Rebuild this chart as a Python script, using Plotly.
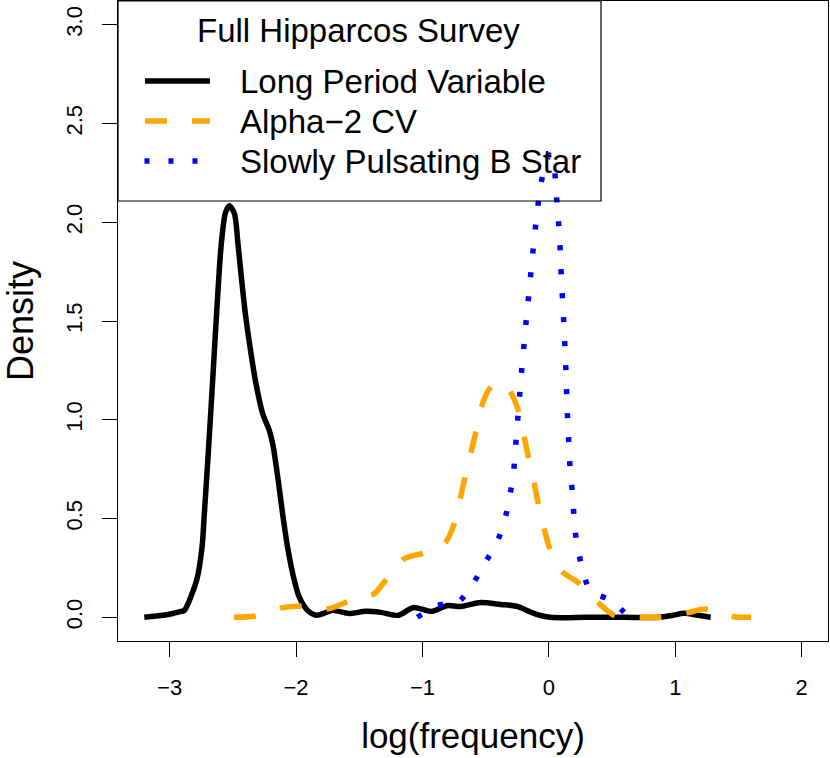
import plotly.graph_objects as go

# ---- data ----
series_names = ["Long Period Variable", "Alpha\u22122 CV", "Slowly Pulsating B Star"]
legend_title = "Full Hipparcos Survey"

lpv_x = [-3.20, -3.05, -2.975, -2.91, -2.883, -2.786, -2.743, -2.725, -2.691, -2.659, -2.628,
         -2.593, -2.559, -2.528, -2.488, -2.457, -2.430, -2.401, -2.364, -2.322, -2.264,
         -2.212, -2.180, -2.141, -2.106, -2.067, -2.014, -1.975, -1.909, -1.843, -1.78,
         -1.711, -1.58, -1.448, -1.33, -1.19, -1.07, -0.93, -0.80, -0.70, -0.54, -0.38,
         -0.25, -0.12, 0.01, 0.30, 0.60, 0.88, 0.98, 1.07, 1.18, 1.28]
lpv_y = [0.0, 0.01, 0.019, 0.03, 0.035, 0.188, 0.356, 0.525, 0.863, 1.201, 1.539,
         1.877, 2.046, 2.083, 2.046, 1.877, 1.708, 1.539, 1.370, 1.201, 1.032,
         0.948, 0.863, 0.694, 0.525, 0.356, 0.188, 0.103, 0.035, 0.01, 0.02,
         0.035, 0.019, 0.03, 0.025, 0.01, 0.05, 0.03, 0.06, 0.055, 0.075, 0.065,
         0.055, 0.02, 0.0, 0.0, 0.0, 0.0, 0.01, 0.02, 0.01, 0.0]

acv_x = [-2.49, -2.33, -2.20, -2.106, -1.962, -1.85, -1.737, -1.593, -1.48, -1.38, -1.29,
         -1.143, -0.998, -0.90, -0.814, -0.748, -0.669, -0.577, -0.524, -0.458, -0.40,
         -0.313, -0.247, -0.195, -0.168, -0.116, -0.09, -0.037, 0.003, 0.108, 0.226,
         0.398, 0.516, 0.62, 0.73, 0.88, 0.98, 1.11, 1.20, 1.26, 1.35, 1.46, 1.60]
acv_y = [0.0, 0.005, 0.03, 0.049, 0.056, 0.045, 0.044, 0.078, 0.10, 0.12, 0.188,
         0.297, 0.323, 0.34, 0.382, 0.475, 0.694, 0.939, 1.083, 1.167, 1.19,
         1.15, 1.058, 0.914, 0.83, 0.678, 0.593, 0.449, 0.356, 0.23, 0.179,
         0.069, 0.01, 0.0, 0.0, 0.0, 0.01, 0.025, 0.04, 0.042, 0.02, 0.003, 0.0]

spb_x = [-1.04, -0.88, -0.72, -0.60, -0.51, -0.41, -0.35, -0.31, -0.28, -0.265, -0.25,
         -0.235, -0.221, -0.203, -0.187, -0.168, -0.150, -0.132, -0.113, -0.092, -0.069,
         -0.029, 0.005, 0.037, 0.055, 0.068, 0.084, 0.092, 0.100, 0.111, 0.121, 0.129,
         0.137, 0.142, 0.15, 0.16, 0.17, 0.19, 0.20, 0.22, 0.26, 0.32, 0.40, 0.479, 0.62]
spb_y = [0.0, 0.06, 0.075, 0.17, 0.27, 0.38, 0.49, 0.61, 0.73, 0.85, 0.97,
         1.09, 1.210, 1.331, 1.451, 1.573, 1.691, 1.813, 1.933, 2.053, 2.171,
         2.291, 2.34, 2.308, 2.183, 2.061, 1.941, 1.821, 1.699, 1.580, 1.458, 1.338,
         1.218, 1.10, 0.98, 0.86, 0.73, 0.61, 0.49, 0.38, 0.26, 0.142, 0.11, 0.091, 0.01]

x_ticks = [-3, -2, -1, 0, 1, 2]
x_tick_labels = ["\u22123", "\u22122", "\u22121", "0", "1", "2"]
y_ticks = [0.0, 0.5, 1.0, 1.5, 2.0, 2.5, 3.0]
y_tick_labels = ["0.0", "0.5", "1.0", "1.5", "2.0", "2.5", "3.0"]

colors = ["black", "orange", "blue"]
dashes = ["solid", "22px,25px", "5px,19px"]

FONT = "Liberation Sans, Arial, Helvetica, sans-serif"

fig = go.Figure()
for xs, ys, name, c, d in [(lpv_x, lpv_y, series_names[0], colors[0], dashes[0]),
                           (acv_x, acv_y, series_names[1], colors[1], dashes[1]),
                           (spb_x, spb_y, series_names[2], colors[2], dashes[2])]:
    fig.add_trace(go.Scatter(x=xs, y=ys, mode="lines", name=name, showlegend=False,
                             line=dict(color=c, width=5.5, dash=d, shape="spline", smoothing=0.7)))

# ---- custom legend (box, samples, labels) ----
shapes = [dict(type="rect", xref="paper", yref="paper", x0=0, x1=0.6803, y0=0.6875, y1=1.0,
               line=dict(color="black", width=1.2), fillcolor="rgba(0,0,0,0)", layer="above")]
sample_rows = [0.875, 0.8125, 0.75]
sample_x = [(0.038, 0.1296), (0.038, 0.1296), (0.0373, 0.112)]
for (x0, x1), yy, c, d in zip(sample_x, sample_rows, colors, dashes):
    shapes.append(dict(type="line", xref="paper", yref="paper", x0=x0, x1=x1, y0=yy, y1=yy,
                       line=dict(color=c, width=5.5, dash=d)))

annotations = [dict(text=legend_title, xref="paper", yref="paper", x=0.3387, y=0.9538,
                    xanchor="center", yanchor="middle", showarrow=False,
                    font=dict(family=FONT, size=33, color="black"))]
for name, yy in zip(series_names, sample_rows):
    annotations.append(dict(text=name, xref="paper", yref="paper", x=0.1690, y=yy,
                            xanchor="left", yanchor="middle", showarrow=False,
                            font=dict(family=FONT, size=33, color="black")))

axis_common = dict(showline=True, mirror=True, linecolor="black", linewidth=1.2,
                   ticks="outside", ticklen=15, tickwidth=1.2, tickcolor="black",
                   showgrid=False, zeroline=False,
                   tickfont=dict(family=FONT, size=22, color="black"))

fig.update_layout(
    width=830, height=758,
    margin=dict(l=118, r=2, t=1, b=117),
    paper_bgcolor="white", plot_bgcolor="white",
    font=dict(family=FONT, color="black"),
    shapes=shapes, annotations=annotations,
    xaxis=dict(range=[-3.408, 2.208], tickvals=x_ticks, ticktext=x_tick_labels,
               ticklabelstandoff=11,
               title=dict(text="log(frequency)", font=dict(family=FONT, size=35, color="black"),
                          standoff=24),
               **axis_common),
    yaxis=dict(range=[-0.12, 3.12], tickvals=y_ticks, ticktext=y_tick_labels,
               tickangle=-90, ticklabelstandoff=11,
               title=dict(text="Density", font=dict(family=FONT, size=36, color="black"),
                          standoff=36),
               **axis_common),
)

fig.write_html("out.html", config={"displayModeBar": False},
               post_script="document.body.style.margin='0';document.body.style.overflow='hidden';")
